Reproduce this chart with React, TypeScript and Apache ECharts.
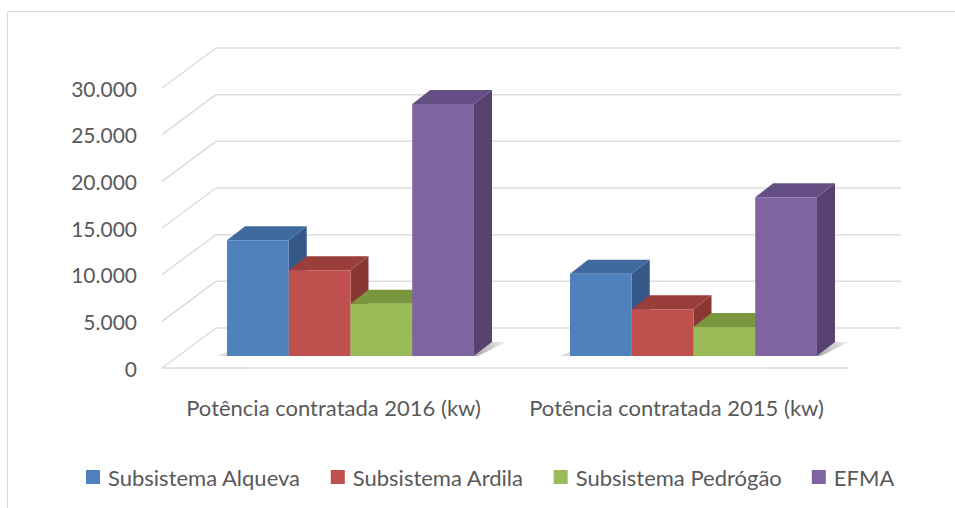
import React, { useEffect, useRef } from "react";
import * as echarts from "echarts";

const categories = ["Potência contratada 2016 (kw)", "Potência contratada 2015 (kw)"];
const seriesNames = ["Subsistema Alqueva", "Subsistema Ardila", "Subsistema Pedrógão", "EFMA"];
const alqueva = [12400, 8800];
const ardila = [9200, 5000];
const pedrogao = [5600, 3100];
const efma = [27000, 17000];
const yTicks = [0, 5000, 10000, 15000, 20000, 25000, 30000];

const seriesValues = [alqueva, ardila, pedrogao, efma];
const frontColors = ["#4F81BD", "#C0504D", "#9BBB59", "#8064A2"];
const topColors = ["#3F6A9E", "#9A3E3B", "#7A963F", "#654E83"];
const sideColors = ["#36598A", "#8A3734", "#6E8A3A", "#57426F"];

const FONT = "Lato";
const TXT = "#595959";
const GRIDC = "#DCDCDC";
const WALL_DX = 54;
const WALL_DY = 40;
const BAR_OX = 17;
const BAR_OY = 12;
const DEPTH_X = 18;
const DEPTH_Y = 14;

function fmt(v: number) {
  return String(v).replace(/\B(?=(\d{3})+(?!\d))/g, ".");
}

export default function App() {
  const ref = useRef<HTMLDivElement>(null);
  useEffect(() => {
    if (!ref.current) return;
    const chart = echarts.init(ref.current, undefined, { renderer: "svg" });

    const barSeries = seriesValues.map((vals, si) => ({
      name: seriesNames[si],
      type: "custom",
      z: 3,
      itemStyle: { color: frontColors[si] },
      encode: { x: 0, y: 1 },
      data: vals.map((v, i) => [i, v]),
      renderItem: (params: any, api: any) => {
        const idx = api.value(0);
        const v = api.value(1);
        const base = api.coord([idx, 0]);
        const top = api.coord([idx, v]);
        const band = api.size([1, 0])[0];
        const bw = band * 0.18;
        const x0 = base[0] - 2 * bw + si * bw + BAR_OX;
        const yb = base[1] - BAR_OY;
        const yt = top[1] - BAR_OY;
        const children: any[] = [];
        if (si === 3) {
          children.push({
            type: "polygon",
            shape: {
              points: [
                [x0 + bw, yb],
                [x0 + bw + DEPTH_X, yb - DEPTH_Y],
                [x0 + bw + DEPTH_X + 14, yb - DEPTH_Y],
                [x0 + bw + 4, yb],
              ],
            },
            style: {
              fill: new echarts.graphic.LinearGradient(0, 0, 1, 0, [
                { offset: 0, color: "rgba(0,0,0,0.35)" },
                { offset: 1, color: "rgba(0,0,0,0.05)" },
              ]),
            },
          });
        }
        if (si === 0) {
          children.push({
            type: "polygon",
            shape: {
              points: [
                [x0 - 10, yb],
                [x0, yb - 4],
                [x0, yb],
              ],
            },
            style: { fill: "rgba(0,0,0,0.15)" },
          });
        }
        children.push(
          {
            type: "polygon",
            shape: {
              points: [
                [x0 + bw, yt],
                [x0 + bw + DEPTH_X, yt - DEPTH_Y],
                [x0 + bw + DEPTH_X, yb - DEPTH_Y],
                [x0 + bw, yb],
              ],
            },
            style: { fill: sideColors[si] },
          },
          {
            type: "polygon",
            shape: {
              points: [
                [x0, yt],
                [x0 + DEPTH_X, yt - DEPTH_Y],
                [x0 + bw + DEPTH_X, yt - DEPTH_Y],
                [x0 + bw, yt],
              ],
            },
            style: { fill: topColors[si] },
          },
          {
            type: "rect",
            shape: { x: x0, y: yt, width: bw, height: yb - yt },
            style: { fill: frontColors[si] },
          }
        );
        return { type: "group", children };
      },
    }));

    const wallSeries = {
      name: "walls",
      type: "custom",
      z: 1,
      silent: true,
      encode: { x: 0, y: 1 },
      data: yTicks.map((t) => [0, t]),
      renderItem: (params: any, api: any) => {
        const cs = params.coordSys;
        const y = api.coord([0, api.value(1)])[1];
        const style = { stroke: GRIDC, lineWidth: 1.5, fill: null };
        return {
          type: "group",
          children: [
            { type: "line", shape: { x1: cs.x, y1: y, x2: cs.x + WALL_DX, y2: y - WALL_DY }, style },
            {
              type: "line",
              shape: { x1: cs.x + WALL_DX, y1: y - WALL_DY, x2: cs.x + cs.width + WALL_DX - 1, y2: y - WALL_DY },
              style,
            },
          ],
        };
      },
    };

    chart.setOption({
      animation: false,
      backgroundColor: "#FFFFFF",
      color: frontColors,
      textStyle: { fontFamily: FONT },
      graphic: [
        {
          type: "rect",
          shape: { x: 7.5, y: 11.5, width: 1200, height: 800 },
          style: { fill: null, stroke: "#D9D9D9", lineWidth: 1 },
          silent: true,
          z: 0,
        },
      ],
      grid: { left: 162, right: 107, top: 88, bottom: 140 },
      xAxis: {
        type: "category",
        data: categories,
        axisLine: { show: true, lineStyle: { color: GRIDC, width: 1.5 } },
        axisTick: { show: false },
        axisLabel: { color: TXT, fontSize: 22, fontFamily: FONT, margin: 28, interval: 0, hideOverlap: false },
        splitLine: { show: false },
      },
      yAxis: {
        type: "value",
        min: 0,
        max: 30000,
        interval: 5000,
        axisLine: { show: false },
        axisTick: { show: false },
        splitLine: { show: false },
        axisLabel: { color: TXT, fontSize: 21, fontFamily: FONT, margin: 25, formatter: (v: number) => fmt(v) },
      },
      legend: {
        data: seriesNames,
        top: 461,
        left: 81,
        icon: "rect",
        itemWidth: 14,
        itemHeight: 14,
        itemGap: 30,
        textStyle: { color: TXT, fontSize: 22, fontFamily: FONT, padding: [0, 0, 0, 3] },
      },
      series: [wallSeries, ...barSeries],
    });
    return () => chart.dispose();
  }, []);
  return <div ref={ref} style={{ position: "absolute", left: 0, top: 0, width: 955, height: 508 }} />;
}
